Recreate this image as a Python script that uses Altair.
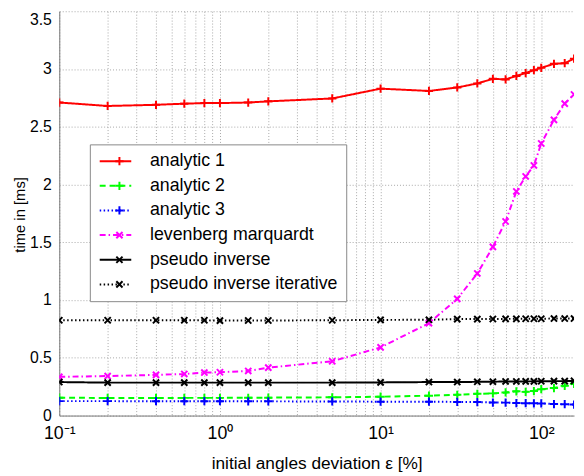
import altair as alt
import pandas as pd

# ---- data ----
eps = [0.1, 0.2, 0.4, 0.6, 0.8, 1, 1.5, 2, 5, 10, 20, 30, 40, 50, 60, 70, 80, 90, 100, 120, 140, 160]

analytic1 = [2.71, 2.68, 2.69, 2.70, 2.705, 2.705, 2.71, 2.72, 2.745, 2.83, 2.81, 2.84,
             2.875, 2.915, 2.91, 2.94, 2.965, 2.99, 3.01, 3.045, 3.05, 3.09]
analytic2 = [0.155, 0.152, 0.152, 0.153, 0.153, 0.153, 0.154, 0.155, 0.158, 0.163, 0.172, 0.18,
             0.188, 0.192, 0.2, 0.21, 0.205, 0.212, 0.228, 0.238, 0.258, 0.275]
analytic3 = [0.125, 0.125, 0.124, 0.124, 0.124, 0.124, 0.123, 0.123, 0.122, 0.12, 0.12, 0.118,
             0.117, 0.113, 0.112, 0.108, 0.107, 0.106, 0.105, 0.1, 0.098, 0.095]
lev_marq = [0.335, 0.342, 0.352, 0.36, 0.372, 0.375, 0.386, 0.415, 0.47, 0.59, 0.80, 1.01,
            1.23, 1.46, 1.68, 1.94, 2.07, 2.165, 2.355, 2.56, 2.70, 2.78]
pinv = [0.29, 0.285, 0.285, 0.285, 0.285, 0.285, 0.285, 0.285, 0.285, 0.287, 0.29, 0.29,
        0.292, 0.293, 0.295, 0.295, 0.296, 0.296, 0.297, 0.298, 0.298, 0.30]
pinv_iter = [0.825, 0.825, 0.825, 0.825, 0.825, 0.822, 0.823, 0.823, 0.825, 0.828, 0.829, 0.835,
             0.835, 0.836, 0.837, 0.837, 0.838, 0.838, 0.838, 0.84, 0.84, 0.84]

series_names = ["analytic 1", "analytic 2", "analytic 3", "levenberg marquardt",
                "pseudo inverse", "pseudo inverse iterative"]
series_values = [analytic1, analytic2, analytic3, lev_marq, pinv, pinv_iter]

colors = ["#ff0000", "#00ff00", "#0000ff", "#ff00ff", "#000000", "#000000"]
dashes = [[1, 0], [6, 4], [1.5, 2.5], [6, 3, 1.5, 3], [1, 0], [1.5, 2.5]]
PLUS = "M-1,0L1,0M0,-1L0,1"
CROSS = "M-0.75,-0.75L0.75,0.75M-0.75,0.75L0.75,-0.75"
markers = [PLUS, PLUS, PLUS, CROSS, CROSS, CROSS]

x_grid = [0.1, 0.2, 0.3, 0.4, 0.5, 0.6, 0.7, 0.8, 0.9,
          1, 2, 3, 4, 5, 6, 7, 8, 9,
          10, 20, 30, 40, 50, 60, 70, 80, 90, 100]
y_ticks = [0, 0.5, 1, 1.5, 2, 2.5, 3, 3.5]

rows = []
for i, (name, vals) in enumerate(zip(series_names, series_values)):
    for x, v in zip(eps, vals):
        rows.append({"eps": x, "time": v, "series": name, "series_m": name, "k": i})
df = pd.DataFrame(rows)

FONT = "Liberation Sans"

x_enc = alt.X("eps:Q", scale=alt.Scale(type="log", domain=[0.1, 160], nice=False),
              axis=alt.Axis(values=x_grid,
                            labelExpr="datum.value == 0.1 ? '10⁻¹' : datum.value == 1 ? '10⁰' : "
                                      "datum.value == 10 ? '10¹' : datum.value == 100 ? '10²' : ''",
                            labelOverlap=False, labelFlush=False,
                            title="initial angles deviation ε [%]",
                            grid=True, gridDash=[1, 2], gridColor="#a8a8a8",
                            ticks=False, domainColor="#777777",
                            labelFontSize=18, titleFontSize=17.5, labelPadding=9,
                            titleX=261, titleY=49, titleBaseline="middle", titleAlign="center",
                            labelColor="black", titleColor="black",
                            titleFontWeight="normal"))
y_enc = alt.Y("time:Q", scale=alt.Scale(domain=[0, 3.5], nice=False),
              axis=alt.Axis(values=y_ticks, format="~g",
                            title="time in [ms]",
                            grid=True, gridDash=[1, 2], gridColor="#a8a8a8",
                            ticks=False, domainColor="#777777",
                            labelFontSize=16, titleFontSize=15, labelPadding=8,
                            titleX=-40, titleY=206, titleBaseline="middle",
                            titleAlign="center", titleAngle=270,
                            labelColor="black", titleColor="black",
                            titleFontWeight="normal",
                            labelBaseline={"condition": {"test": "datum.value == 3.5", "value": "top"},
                                           "value": "middle"}))

legend_common = dict(orient="none", legendX=31, legendY=135, title=None,
                     labelFontSize=18, labelFont=FONT, labelLimit=400,
                     padding=8, rowPadding=7)

line_legend = alt.Legend(**legend_common, fillColor="white", strokeColor="#888888",
                         symbolType="M-2,0L2,0", symbolSize=256,
                         symbolStrokeWidth=2, symbolOffset=9, labelOffset=26)

lines = alt.Chart(df).mark_line(strokeWidth=2, clip=True).encode(
    x=x_enc, y=y_enc,
    color=alt.Color("series:N", scale=alt.Scale(domain=series_names, range=colors),
                    legend=line_legend),
    strokeDash=alt.StrokeDash("series:N", scale=alt.Scale(domain=series_names, range=dashes),
                              legend=line_legend),
    order=alt.Order("eps:Q"),
)

point_legend = alt.Legend(**legend_common, symbolSize=70, symbolStrokeWidth=2,
                          symbolOffset=13, labelExpr="' '", labelOffset=26)

points = alt.Chart(df).mark_point(filled=False, size=70, strokeWidth=2, opacity=1, clip=True).encode(
    x=x_enc, y=y_enc,
    color=alt.Color("series_m:N", scale=alt.Scale(domain=series_names, range=colors),
                    legend=point_legend),
    shape=alt.Shape("series_m:N", scale=alt.Scale(domain=series_names, range=markers),
                    legend=point_legend),
)

chart = alt.layer(lines, points).resolve_scale(
    color="independent", shape="independent", strokeDash="independent"
).resolve_legend(color="independent", shape="independent", strokeDash="independent").properties(
    width=522, height=410,
    padding={"left": 52, "top": 0, "right": 2, "bottom": 58},
    autosize=alt.AutoSizeParams(type="none"),
    background="white",
).configure(font=FONT).configure_view(stroke=None)

chart.save("out.html", embed_options={"renderer": "svg", "actions": False})
